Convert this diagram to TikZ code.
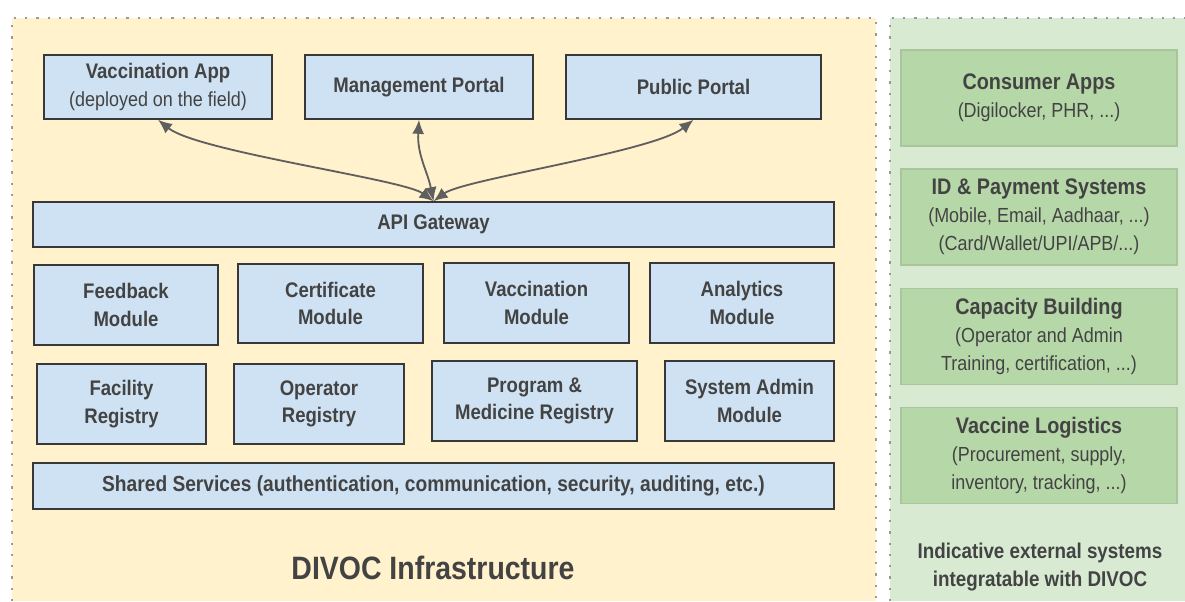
\documentclass[tikz,border=0pt]{standalone}
\usepackage{fontspec}
\setmainfont{Liberation Sans}[FakeStretch=0.88]
\usepackage{tikz}
\usetikzlibrary{arrows.meta}

\definecolor{infra}{HTML}{FFF2CC}
\definecolor{extern}{HTML}{D9EAD3}
\definecolor{modfill}{HTML}{CFE2F3}
\definecolor{extfill}{HTML}{B6D7A8}
\definecolor{extline}{HTML}{A9C59C}
\definecolor{modline}{HTML}{383838}
\definecolor{txt}{HTML}{434343}
\definecolor{linkcol}{HTML}{5F5F5F}
\definecolor{dotcol}{HTML}{9A9A9A}

\newcommand\subtxt{\mdseries\fontsize{14.5}{19}\selectfont}

\begin{document}
\begin{tikzpicture}[x=0.025cm, y=-0.025cm, >={Latex[length=10pt,width=8.5pt]},
    mod/.style={draw=modline, fill=modfill, line width=1.1pt, inner sep=0pt,
                align=center, text=txt, font=\bfseries\fontsize{15}{19.5}\selectfont},
    ext/.style={draw=extline, fill=extfill, line width=1pt, inner sep=0pt,
                minimum width=6.9cm, minimum height=2.4cm,
                align=center, text=txt, font=\bfseries\fontsize{16}{20}\selectfont},
    dotborder/.style={draw=dotcol, line width=1.6pt, dash pattern=on 1.6pt off 6.4pt},
    link/.style={<->, draw=linkcol, line width=1.3pt}]

  \useasboundingbox (0,0) rectangle (1185,601);

  % backgrounds
  \fill[infra] (12,18) rectangle (876,601);
  \fill[extern] (890,18) rectangle (1185,601);
  \draw[dotborder] (12,601) -- (12,18) -- (876,18) -- (876,601);
  \draw[dotborder] (890,601) -- (890,18) -- (1185,18);

  % front ends
  \node[mod, minimum width=5.7cm, minimum height=1.6cm] (vapp) at (158,87)
    {Vaccination App\\{\subtxt (deployed on the field)}};
  \node[mod, minimum width=5.7cm, minimum height=1.6cm] (mgmt) at (419,87) {Management Portal};
  \node[mod, minimum width=6.375cm, minimum height=1.6cm] (pub) at (693.5,87) {Public Portal};

  \node[mod, minimum width=20.025cm, minimum height=1.125cm] (gw) at (433.5,224.5) {API Gateway};

  % modules
  \node[mod, minimum width=4.6cm, minimum height=2cm] (feedback) at (126,305) {Feedback\\Module};
  \node[mod, minimum width=4.625cm, minimum height=1.975cm] (cert) at (330.5,303.5) {Certificate\\Module};
  \node[mod, minimum width=4.625cm, minimum height=2cm] (vacc) at (536.5,303) {Vaccination\\Module};
  \node[mod, minimum width=4.6cm, minimum height=2cm] (analytics) at (742,303) {Analytics\\Module};

  \node[mod, minimum width=4.225cm, minimum height=2cm] (facility) at (121.5,404) {Facility\\Registry};
  \node[mod, minimum width=4.25cm, minimum height=2cm] (operator) at (319,404) {Operator\\Registry};
  \node[mod, minimum width=5.125cm, minimum height=2cm] (program) at (534.5,401) {Program \&\\Medicine Registry};
  \node[mod, minimum width=4.225cm, minimum height=2cm] (sysadmin) at (749.5,401) {System Admin\\Module};

  \node[mod, minimum width=20.025cm, minimum height=1.15cm, font=\bfseries\fontsize{15.5}{19}\selectfont] (shared)
    at (433.5,486) {Shared Services (authentication, communication, security, auditing, etc.)};

  \node[text=txt, font=\bfseries\fontsize{23}{28}\selectfont] (infratitle) at (433,568) {DIVOC Infrastructure};

  % external systems
  \node[ext] (consumer) at (1039,98) {Consumer Apps\\{\subtxt (Digilocker, PHR, ...)}};
  \node[ext] (idpay) at (1039,217) {ID \& Payment Systems\\{\subtxt (Mobile, Email, Aadhaar, ...)}\\{\subtxt (Card/Wallet/UPI/APB/...)}};
  \node[ext] (capacity) at (1039,336.5) {Capacity Building\\{\subtxt (Operator and Admin}\\{\subtxt Training, certification, ...)}};
  \node[ext] (logistics) at (1039,455.5) {Vaccine Logistics\\{\subtxt (Procurement, supply,}\\{\subtxt inventory, tracking, ...)}};

  \node[text=txt, align=center, font=\bfseries\fontsize{15.2}{19.5}\selectfont] (exttitle) at (1040,567)
    {Indicative external systems\\integratable with DIVOC};

  % gateway links
  \draw[link] (gw.north) .. controls +(-30,-22) and +(40,32) .. (vapp.south);
  \draw[link] (gw.north) .. controls +(-6,-30) and +(-2,35) .. (mgmt.south);
  \draw[link] (gw.north) .. controls +(30,-22) and +(-40,32) .. (pub.south);
\end{tikzpicture}
\end{document}
